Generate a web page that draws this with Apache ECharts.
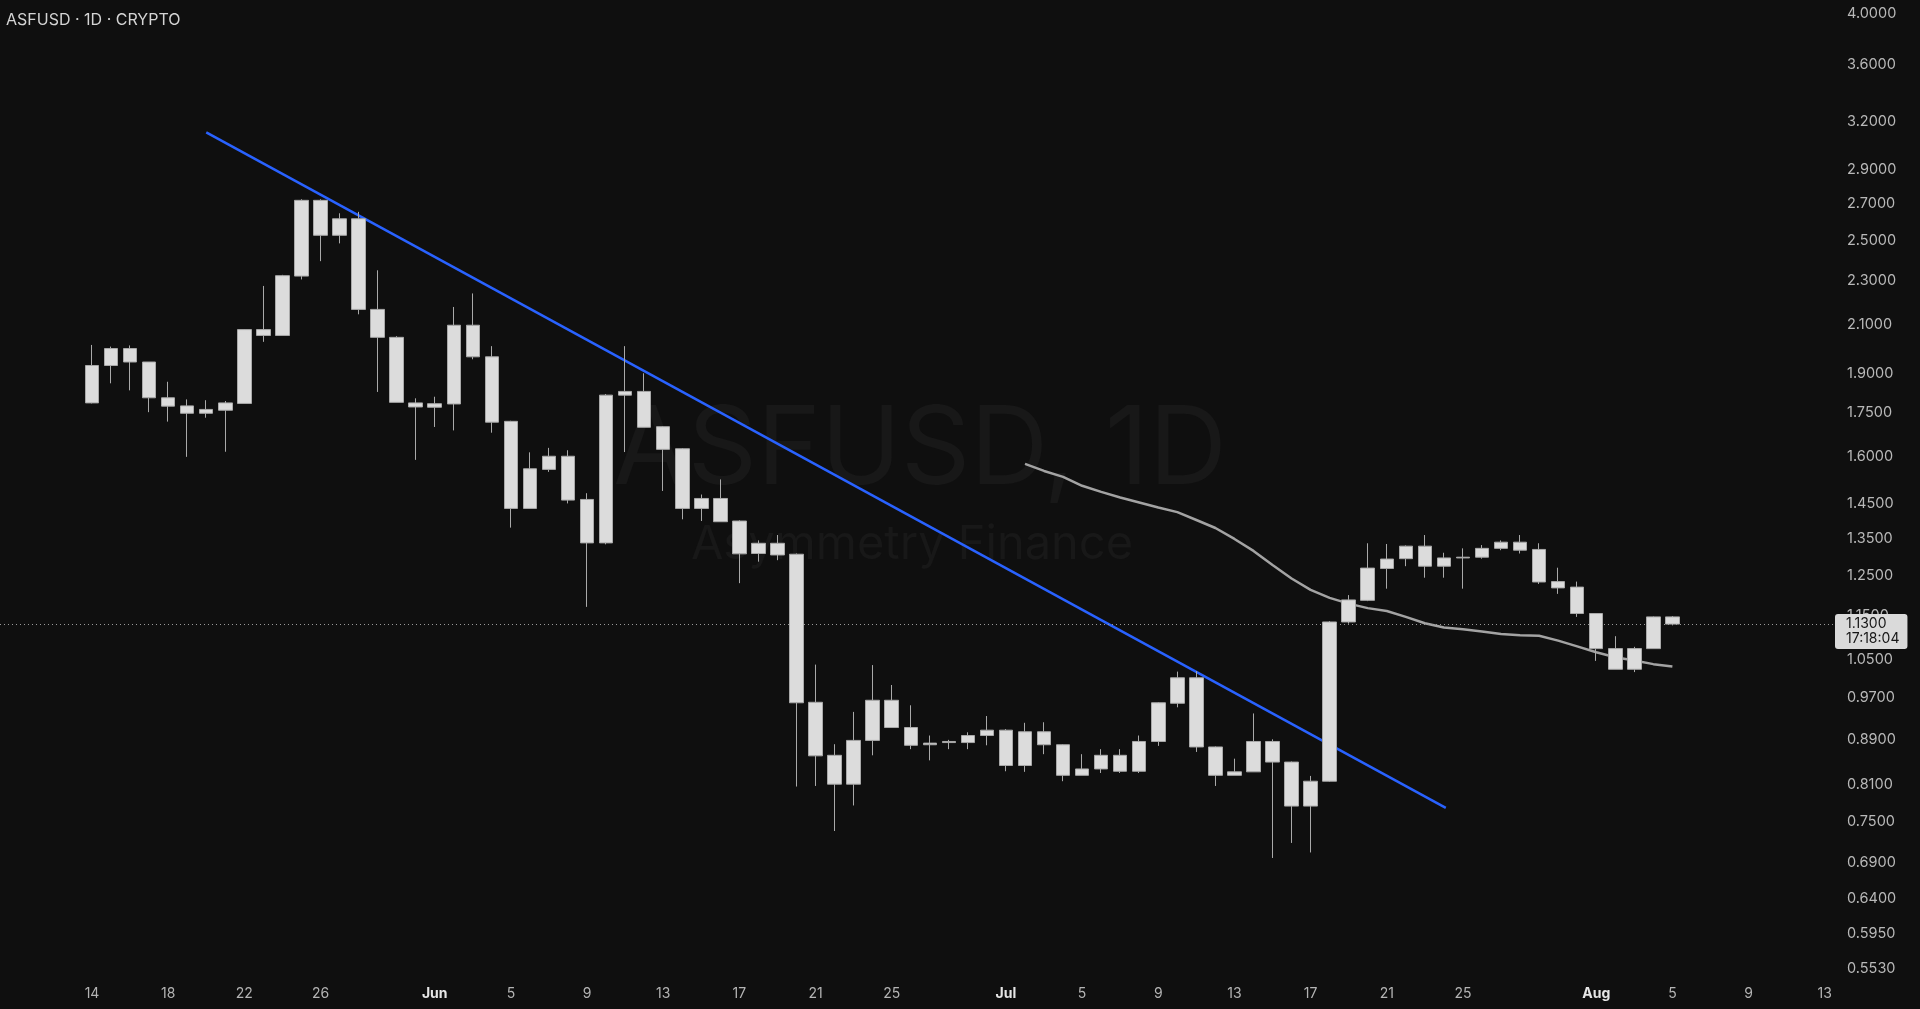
<!DOCTYPE html>
<html>
<head>
<meta charset="utf-8">
<title>ASFUSD 1D</title>
<script src="https://cdn.jsdelivr.net/npm/echarts@6/dist/echarts.min.js"></script>
<style>
  html, body { margin: 0; padding: 0; background: #0f0f0f; }
  #main { width: 1920px; height: 1009px; }
</style>
</head>
<body>
<div id="main"></div>
<script>
// daily candles, May 14 -> Aug 5
const dates = [
  '2025-05-14','2025-05-15','2025-05-16','2025-05-17','2025-05-18','2025-05-19','2025-05-20','2025-05-21','2025-05-22','2025-05-23',
  '2025-05-24','2025-05-25','2025-05-26','2025-05-27','2025-05-28','2025-05-29','2025-05-30','2025-05-31','2025-06-01','2025-06-02',
  '2025-06-03','2025-06-04','2025-06-05','2025-06-06','2025-06-07','2025-06-08','2025-06-09','2025-06-10','2025-06-11','2025-06-12',
  '2025-06-13','2025-06-14','2025-06-15','2025-06-16','2025-06-17','2025-06-18','2025-06-19','2025-06-20','2025-06-21','2025-06-22',
  '2025-06-23','2025-06-24','2025-06-25','2025-06-26','2025-06-27','2025-06-28','2025-06-29','2025-06-30','2025-07-01','2025-07-02',
  '2025-07-03','2025-07-04','2025-07-05','2025-07-06','2025-07-07','2025-07-08','2025-07-09','2025-07-10','2025-07-11','2025-07-12',
  '2025-07-13','2025-07-14','2025-07-15','2025-07-16','2025-07-17','2025-07-18','2025-07-19','2025-07-20','2025-07-21','2025-07-22',
  '2025-07-23','2025-07-24','2025-07-25','2025-07-26','2025-07-27','2025-07-28','2025-07-29','2025-07-30','2025-07-31','2025-08-01',
  '2025-08-02','2025-08-03','2025-08-04','2025-08-05'
];
const open = [
  1.787,1.931,2.000,1.945,1.806,1.776,1.749,1.760,1.785,2.080,
  2.055,2.324,2.719,2.529,2.617,2.169,2.047,1.787,1.771,1.783,
  2.099,1.966,1.720,1.436,1.557,1.600,1.463,1.337,1.816,1.830,
  1.701,1.625,1.436,1.466,1.399,1.308,1.336,1.306,0.961,0.861,
  0.811,0.888,0.965,0.912,0.880,0.884,0.884,0.897,0.907,0.843,
  0.904,0.880,0.826,0.837,0.861,0.833,0.886,0.959,1.011,0.876,
  0.826,0.832,0.886,0.849,0.775,0.816,1.135,1.187,1.268,1.294,
  1.328,1.274,1.296,1.298,1.322,1.339,1.319,1.234,1.220,1.155,
  1.074,1.029,1.074,1.147
];
const close = [
  1.931,2.000,1.945,1.806,1.775,1.749,1.763,1.787,2.080,2.055,
  2.326,2.719,2.529,2.617,2.169,2.047,1.789,1.772,1.784,2.099,
  1.966,1.717,1.436,1.559,1.600,1.461,1.337,1.816,1.830,1.699,
  1.623,1.436,1.466,1.397,1.307,1.336,1.304,0.960,0.860,0.811,
  0.888,0.965,0.912,0.879,0.883,0.886,0.897,0.907,0.843,0.904,
  0.880,0.826,0.837,0.861,0.833,0.886,0.960,1.011,0.876,0.826,
  0.832,0.886,0.849,0.775,0.816,1.135,1.188,1.269,1.293,1.328,
  1.274,1.296,1.298,1.322,1.339,1.317,1.233,1.218,1.155,1.074,
  1.029,1.074,1.147,1.130
];
const low = [
  1.785,1.861,1.834,1.753,1.719,1.598,1.733,1.615,1.785,2.028,
  2.055,2.308,2.397,2.487,2.147,1.828,1.789,1.588,1.700,1.688,
  1.956,1.680,1.380,1.436,1.549,1.451,1.171,1.333,1.614,1.699,
  1.489,1.404,1.399,1.397,1.230,1.286,1.290,0.807,0.808,0.736,
  0.776,0.861,0.912,0.872,0.852,0.872,0.872,0.879,0.833,0.832,
  0.863,0.816,0.826,0.830,0.830,0.830,0.878,0.951,0.867,0.808,
  0.826,0.832,0.696,0.718,0.704,0.815,1.131,1.185,1.216,1.274,
  1.244,1.244,1.216,1.294,1.317,1.308,1.228,1.203,1.147,1.047,
  1.029,1.023,1.074,1.127
];
const high = [
  2.015,2.008,2.013,1.945,1.867,1.800,1.797,1.794,2.082,2.277,
  2.330,2.725,2.725,2.647,2.655,2.352,2.052,1.804,1.810,2.180,
  2.242,2.010,1.722,1.613,1.628,1.620,1.482,1.820,2.010,1.900,
  1.703,1.627,1.478,1.525,1.401,1.344,1.359,1.308,1.039,0.881,
  0.942,1.038,0.996,0.955,0.897,0.889,0.903,0.934,0.909,0.921,
  0.922,0.881,0.863,0.872,0.872,0.897,0.961,1.024,1.025,0.877,
  0.855,0.939,0.890,0.850,0.825,1.137,1.200,1.336,1.334,1.330,
  1.359,1.310,1.322,1.331,1.344,1.359,1.336,1.270,1.234,1.156,
  1.102,1.078,1.148,1.149
];

// gray moving average, drawn from Jul 2
const maStart = 49;
const maValues = [
  1.575,1.552,1.533,1.505,1.486,1.469,1.454,1.439,1.425,1.402,
  1.379,1.348,1.315,1.277,1.242,1.213,1.193,1.179,1.168,1.161,
  1.147,1.132,1.122,1.118,1.113,1.107,1.104,1.103,1.092,1.079,
  1.066,1.055,1.048,1.040,1.035
];

// blue trend line anchors
const trendTimes = ['2025-05-20T00:00Z', '2025-07-24T02:24Z'];
const trendPrices = [3.13, 0.772];

const yTicks = [4.0, 3.6, 3.2, 2.9, 2.7, 2.5, 2.3, 2.1, 1.9, 1.75, 1.6, 1.45, 1.35, 1.25, 1.15,
  1.05, 0.97, 0.89, 0.81, 0.75, 0.69, 0.64, 0.595, 0.553];
const xTicks = ['2025-05-14','2025-05-18','2025-05-22','2025-05-26','2025-06-01','2025-06-05','2025-06-09',
  '2025-06-13','2025-06-17','2025-06-21','2025-06-25','2025-07-01','2025-07-05','2025-07-09','2025-07-13',
  '2025-07-17','2025-07-21','2025-07-25','2025-08-01','2025-08-05','2025-08-09','2025-08-13'];
const monthNames = ['Jan','Feb','Mar','Apr','May','Jun','Jul','Aug','Sep','Oct','Nov','Dec'];
const lastPrice = 1.13;
const countdown = '17:18:04';

// x axis runs in days counted from the first candle
const DAY = 86400000;
const t0 = Date.parse(dates[0]);
function dayOf(s) { return (Date.parse(s) - t0) / DAY; }

let candles = [];
for (let i = 0; i < dates.length; i++) {
  candles.push([dayOf(dates[i]), open[i], close[i], low[i], high[i]]);
}
let maData = [];
for (let i = 0; i < maValues.length; i++) {
  maData.push([dayOf(dates[maStart + i]), maValues[i]]);
}
let trendData = [];
for (let i = 0; i < trendTimes.length; i++) {
  trendData.push([dayOf(trendTimes[i]), trendPrices[i]]);
}

const myChart = echarts.init(document.getElementById('main'));
myChart.setOption({
  backgroundColor: '#0f0f0f',
  animation: false,
  textStyle: { fontFamily: 'Inter' },
  title: {
    text: 'ASFUSD · 1D · CRYPTO',
    left: 1, top: 7,
    textStyle: { color: '#d4d4d4', fontSize: 16, fontWeight: 'normal', fontFamily: 'Inter' }
  },
  graphic: [
    { type: 'text', x: 920, y: 452, z: -10, silent: true,
      style: { text: 'ASFUSD, 1D', font: '108px Inter', fill: '#181818', textAlign: 'center', textVerticalAlign: 'middle' } },
    { type: 'text', x: 912, y: 545, z: -10, silent: true,
      style: { text: 'Asymmetry Finance', font: '47px Inter', fill: '#181818', textAlign: 'center', textVerticalAlign: 'middle' } }
  ],
  grid: { left: 0, right: 85, top: 0, bottom: 29 },
  xAxis: {
    type: 'value',
    min: -4.832,
    max: 91.54,
    axisLine: { show: false },
    axisTick: { show: false },
    splitLine: { show: false },
    axisLabel: {
      customValues: xTicks.map(dayOf),
      color: '#b4b4b4',
      fontSize: 14,
      margin: 7,
      formatter: function (value) {
        let d = new Date(t0 + Math.round(value) * DAY);
        if (d.getUTCDate() === 1) return '{m|' + monthNames[d.getUTCMonth()] + '}';
        return String(d.getUTCDate());
      },
      rich: { m: { color: '#e6e6e6', fontWeight: 'bold', fontSize: 14 } }
    }
  },
  yAxis: {
    type: 'log',
    position: 'right',
    min: 0.5405,
    max: 4.118,
    axisLine: { show: false },
    axisTick: { show: false },
    splitLine: { show: false },
    axisLabel: {
      customValues: yTicks,
      color: '#b8b8b8',
      fontSize: 14.5,
      margin: 12,
      formatter: function (v) { return Number(v).toFixed(4); }
    }
  },
  series: [
    {
      name: 'trend',
      type: 'line',
      data: trendData,
      showSymbol: false,
      lineStyle: { color: '#2962ff', width: 2.5 },
      z: 2
    },
    {
      name: 'MA',
      type: 'line',
      data: maData,
      showSymbol: false,
      lineStyle: { color: '#a3a3a3', width: 2.5 },
      z: 3
    },
    {
      name: 'ASFUSD',
      type: 'candlestick',
      data: candles,
      barWidth: 14,
      z: 5,
      itemStyle: {
        color: '#dcdcdc', color0: '#dcdcdc',
        borderColor: '#a9a9a9', borderColor0: '#a9a9a9',
        borderWidth: 1
      },
      markLine: {
        silent: true,
        symbol: ['none', 'none'],
        animation: false,
        lineStyle: { color: '#9a9a9a', type: [1, 3], width: 1 },
        label: {
          position: 'end',
          distance: 0,
          offset: [0, 7.5],
          formatter: lastPrice.toFixed(4) + '\n' + countdown,
          color: '#161616',
          backgroundColor: '#dadada',
          borderRadius: 3,
          padding: [3, 8, 2, 11],
          fontSize: 14,
          lineHeight: 15,
          fontFamily: 'Inter'
        },
        data: [{ yAxis: lastPrice }]
      }
    }
  ]
});

window.addEventListener('resize', function () {
  myChart.resize();
});
</script>
</body>
</html>
